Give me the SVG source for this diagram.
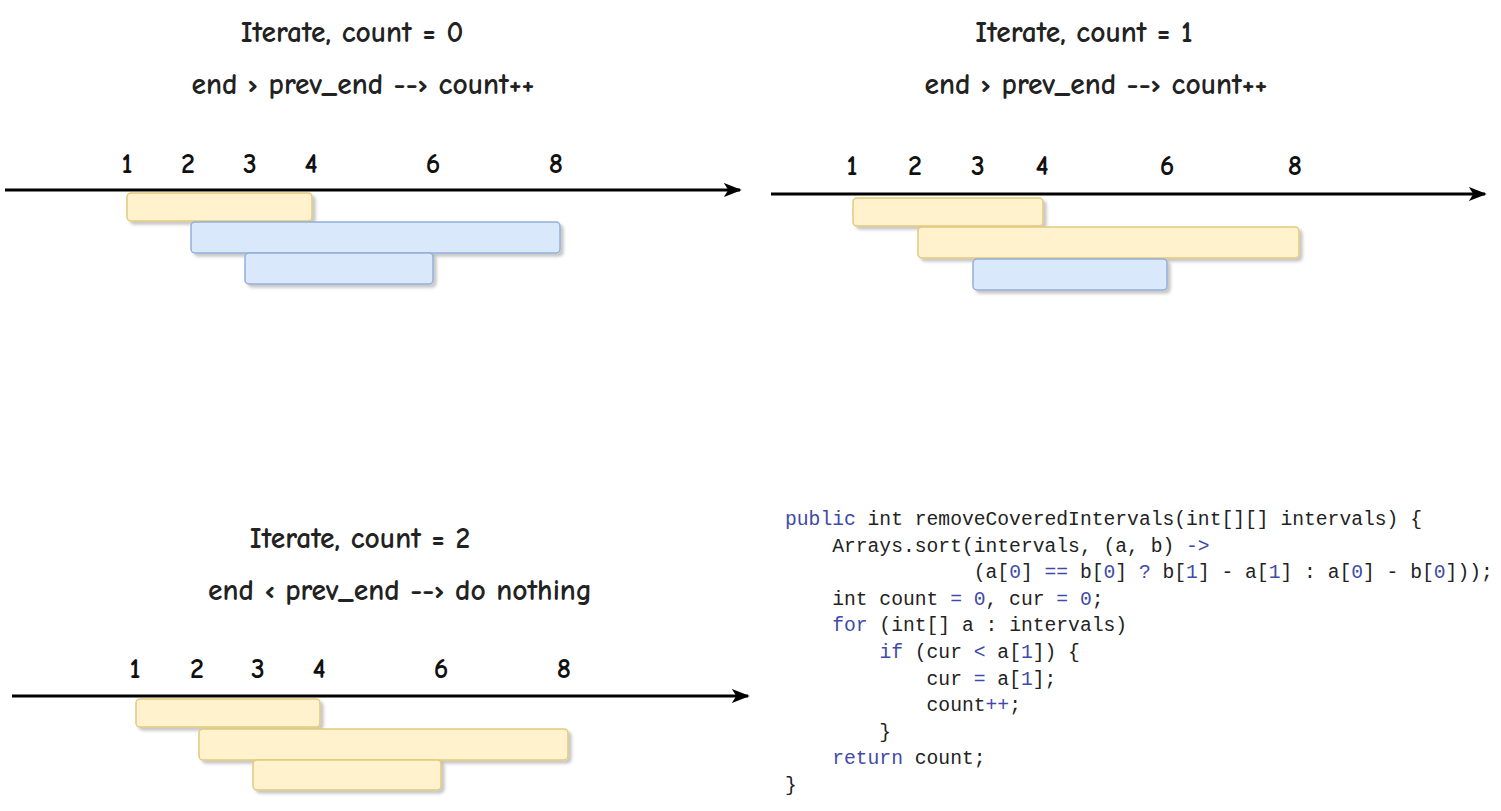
<svg xmlns="http://www.w3.org/2000/svg" width="1501" height="811" viewBox="0 0 1501 811">
<defs>
<filter id="sh" x="-10%" y="-30%" width="120%" height="170%">
<feDropShadow dx="3" dy="3" stdDeviation="1.5" flood-color="#000" flood-opacity="0.22"/>
</filter>
<marker id="arr" viewBox="0 0 10 10" refX="9" refY="5" markerWidth="18" markerHeight="14" markerUnits="userSpaceOnUse" orient="auto" preserveAspectRatio="none">
<path d="M0,0 L10,5 L0,10 L2.5,5 Z" fill="#000"/>
</marker>
</defs>
<style>
.t{font-family:"Comic Neue","Open Sans","DejaVu Sans",sans-serif;font-size:29.5px;font-weight:bold;fill:#222;text-anchor:middle}
.n{font-family:"Comic Neue","Open Sans","DejaVu Sans",sans-serif;font-size:28px;fill:#111;text-anchor:middle;font-weight:bold}
.y{fill:#fff2cc;stroke:#e2c97e;stroke-width:1.5;filter:url(#sh)}
.b{fill:#dae8fc;stroke:#93aed6;stroke-width:1.5;filter:url(#sh)}
.ax{stroke:#000;stroke-width:3;fill:none;marker-end:url(#arr)}
.c{font-family:"Liberation Mono",monospace;font-size:19.67px;fill:#222;white-space:pre}
.k{fill:#3f4aa8}
</style>
<rect width="1501" height="811" fill="#fff"/>

<g id="connectors">
<line class="ax" x1="5" y1="190" x2="740" y2="190"/>
<line class="ax" x1="771" y1="194" x2="1485" y2="194"/>
<line class="ax" x1="12" y1="696" x2="748" y2="696"/>
</g>

<g id="panel1">
<text class="t" x="352" y="42">Iterate, count = 0</text>
<text class="t" x="363" y="94">end › prev_end --› count++</text>
<g class="n"><text x="127" y="173">1</text><text x="188" y="173">2</text><text x="250" y="173">3</text><text x="311" y="173">4</text><text x="433" y="173">6</text><text x="556" y="173">8</text></g>
<rect id="p1i1" class="y" x="127" y="193" width="185" height="28" rx="4"/>
<rect id="p1i2" class="b" x="191" y="222" width="369" height="31" rx="4"/>
<rect id="p1i3" class="b" x="245" y="253" width="188" height="31" rx="4"/>
</g>

<g id="panel2">
<text class="t" x="1084" y="42">Iterate, count = 1</text>
<text class="t" x="1096" y="94">end › prev_end --› count++</text>
<g class="n"><text x="852" y="175">1</text><text x="915" y="175">2</text><text x="978" y="175">3</text><text x="1042" y="175">4</text><text x="1167" y="175">6</text><text x="1295" y="175">8</text></g>
<rect id="p2i1" class="y" x="853" y="198" width="190" height="28" rx="4"/>
<rect id="p2i2" class="y" x="918" y="227" width="381" height="31" rx="4"/>
<rect id="p2i3" class="b" x="973" y="259" width="194" height="31" rx="4"/>
</g>

<g id="panel3">
<text class="t" x="360" y="548">Iterate, count = 2</text>
<text class="t" x="400" y="600">end ‹ prev_end --› do nothing</text>
<g class="n"><text x="135" y="678">1</text><text x="197" y="678">2</text><text x="258" y="678">3</text><text x="319" y="678">4</text><text x="441" y="678">6</text><text x="564" y="678">8</text></g>
<rect id="p3i1" class="y" x="136" y="699" width="184" height="28" rx="4"/>
<rect id="p3i2" class="y" x="199" y="729" width="369" height="31" rx="4"/>
<rect id="p3i3" class="y" x="253" y="760" width="188" height="30" rx="4"/>
</g>

<g id="code">
<text class="c" x="785" y="525"><tspan class="k">public</tspan> int removeCoveredIntervals(int[][] intervals) {</text>
<text class="c" x="785" y="552">    Arrays.sort(intervals, (a, b) <tspan class="k">-&gt;</tspan></text>
<text class="c" x="785" y="578">                (a[<tspan class="k">0</tspan>] <tspan class="k">==</tspan> b[<tspan class="k">0</tspan>] <tspan class="k">?</tspan> b[<tspan class="k">1</tspan>] - a[<tspan class="k">1</tspan>] : a[<tspan class="k">0</tspan>] - b[<tspan class="k">0</tspan>]));</text>
<text class="c" x="785" y="605">    int count <tspan class="k">=</tspan> <tspan class="k">0</tspan>, cur <tspan class="k">=</tspan> <tspan class="k">0</tspan>;</text>
<text class="c" x="785" y="631">    <tspan class="k">for</tspan> (int[] a : intervals)</text>
<text class="c" x="785" y="658">        <tspan class="k">if</tspan> (cur <tspan class="k">&lt;</tspan> a[<tspan class="k">1</tspan>]) {</text>
<text class="c" x="785" y="685">            cur <tspan class="k">=</tspan> a[<tspan class="k">1</tspan>];</text>
<text class="c" x="785" y="711">            count<tspan class="k">++</tspan>;</text>
<text class="c" x="785" y="738">        }</text>
<text class="c" x="785" y="764">    <tspan class="k">return</tspan> count;</text>
<text class="c" x="785" y="791">}</text>
</g>
</svg>
